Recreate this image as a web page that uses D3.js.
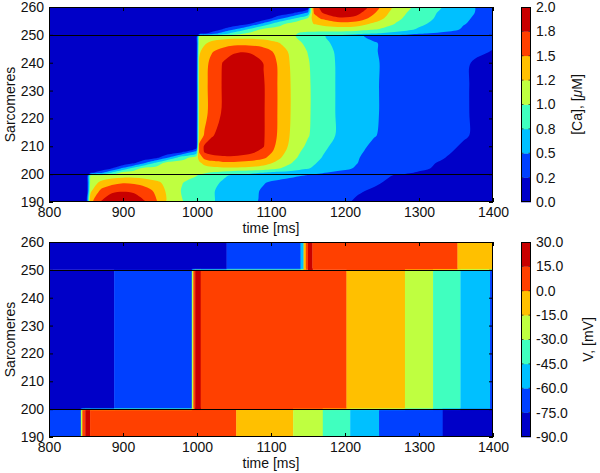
<!DOCTYPE html>
<html><head><meta charset="utf-8">
<script src="https://cdn.jsdelivr.net/npm/d3@7"></script>
<style>body{margin:0;background:#fff}</style>
</head><body>
<script>
// ---------------- DATA ----------------
const xTicks = [800, 900, 1000, 1100, 1200, 1300, 1400];
const yTicks = [190, 200, 210, 220, 230, 240, 250, 260];
const regionLines = [200, 250];

// Ca grid: sample times (ms) and sarcomere rows
const caTimes = [800, 851, 856, 870, 885, 900, 915, 930, 945, 960, 980, 999, 1003, 1010, 1020, 1035, 1050, 1070, 1090, 1110, 1130, 1150, 1158, 1170, 1190, 1215, 1240, 1270, 1300, 1330, 1360, 1400];
const caRows = [190, 194, 197, 199.5, 200.5, 202, 204, 206, 208, 210, 214, 222, 232, 240, 244, 247, 249.5, 250.5, 252, 254, 256, 258, 260];
const caValues = [
 [0.05,0.05,1.40,1.76,2.00,2.10,2.00,1.76,1.52,1.20,1.01,0.88,0.86,0.83,0.77,0.69,0.62,0.54,0.47,0.42,0.37,0.33,0.32,0.30,0.27,0.24,0.22,0.20,0.18,0.16,0.14,0.12],
 [0.05,0.05,1.20,1.55,1.68,1.72,1.68,1.60,1.45,1.20,0.98,0.88,0.86,0.83,0.77,0.70,0.63,0.55,0.48,0.43,0.38,0.34,0.33,0.31,0.29,0.26,0.24,0.21,0.19,0.17,0.15,0.13],
 [0.05,0.06,1.10,1.30,1.42,1.48,1.46,1.40,1.30,1.18,1.01,0.90,0.88,0.85,0.80,0.73,0.66,0.58,0.51,0.46,0.42,0.38,0.37,0.35,0.32,0.29,0.26,0.23,0.21,0.19,0.17,0.15],
 [0.05,0.05,1.03,1.08,1.12,1.15,1.15,1.13,1.10,1.07,1.03,1.01,0.98,0.95,0.90,0.78,0.72,0.68,0.62,0.57,0.53,0.49,0.47,0.44,0.39,0.34,0.29,0.24,0.22,0.20,0.18,0.16],
 [0.05,0.05,0.19,0.43,0.78,1.09,1.12,1.12,1.12,1.11,1.09,1.06,1.04,1.02,0.98,0.92,0.86,0.80,0.74,0.68,0.62,0.55,0.53,0.51,0.45,0.39,0.33,0.28,0.24,0.21,0.19,0.16],
 [0.05,0.05,0.05,0.05,0.26,0.57,0.88,1.12,1.12,1.12,1.12,1.12,1.13,1.15,1.18,1.20,1.20,1.18,1.12,1.01,0.88,0.76,0.72,0.66,0.57,0.48,0.39,0.32,0.27,0.23,0.20,0.16],
 [0.05,0.05,0.05,0.05,0.05,0.05,0.21,0.51,0.81,1.12,1.12,1.12,1.20,1.32,1.40,1.45,1.45,1.42,1.35,1.18,0.98,0.82,0.77,0.70,0.60,0.51,0.40,0.33,0.28,0.24,0.20,0.16],
 [0.05,0.05,0.05,0.05,0.05,0.05,0.05,0.05,0.17,0.46,0.88,1.12,1.35,1.58,1.66,1.70,1.70,1.65,1.55,1.30,1.05,0.87,0.82,0.74,0.63,0.52,0.42,0.35,0.30,0.26,0.21,0.17],
 [0.05,0.05,0.05,0.05,0.05,0.05,0.05,0.05,0.05,0.05,0.21,0.57,1.52,1.77,1.85,1.90,1.88,1.82,1.68,1.38,1.10,0.90,0.85,0.77,0.65,0.54,0.44,0.36,0.31,0.27,0.23,0.18],
 [0.05,0.05,0.05,0.05,0.05,0.05,0.05,0.05,0.05,0.05,0.05,0.05,1.55,1.78,1.95,2.05,2.05,1.95,1.76,1.42,1.15,0.95,0.89,0.80,0.68,0.56,0.46,0.38,0.32,0.28,0.24,0.19],
 [0.05,0.05,0.05,0.05,0.05,0.05,0.05,0.05,0.05,0.05,0.05,0.05,1.35,1.52,1.70,1.95,2.10,2.05,1.77,1.47,1.18,1.02,0.94,0.86,0.73,0.61,0.51,0.41,0.34,0.29,0.26,0.21],
 [0.05,0.05,0.05,0.05,0.05,0.05,0.05,0.05,0.05,0.05,0.05,0.05,1.30,1.42,1.60,1.78,2.10,2.10,1.77,1.48,1.20,1.03,0.96,0.86,0.73,0.62,0.52,0.42,0.35,0.30,0.26,0.21],
 [0.05,0.05,0.05,0.05,0.05,0.05,0.05,0.05,0.05,0.05,0.05,0.05,1.30,1.42,1.60,1.77,2.10,2.10,1.77,1.48,1.20,1.03,0.96,0.86,0.73,0.62,0.52,0.42,0.35,0.30,0.26,0.21],
 [0.05,0.05,0.05,0.05,0.05,0.05,0.05,0.05,0.05,0.05,0.05,0.05,1.28,1.40,1.58,1.76,1.95,1.95,1.74,1.47,1.18,1.02,0.94,0.85,0.73,0.62,0.52,0.43,0.36,0.31,0.26,0.22],
 [0.05,0.05,0.05,0.05,0.05,0.05,0.05,0.05,0.05,0.05,0.05,0.05,1.22,1.33,1.48,1.60,1.70,1.72,1.62,1.42,1.15,0.99,0.92,0.84,0.72,0.60,0.51,0.44,0.38,0.33,0.29,0.245],
 [0.05,0.05,0.05,0.05,0.05,0.05,0.05,0.05,0.05,0.05,0.05,0.05,1.15,1.22,1.31,1.38,1.42,1.42,1.38,1.27,1.08,0.95,0.88,0.80,0.70,0.58,0.51,0.44,0.39,0.34,0.30,0.26],
 [0.05,0.05,0.05,0.05,0.05,0.05,0.05,0.05,0.05,0.05,0.05,0.05,1.04,1.08,1.12,1.14,1.15,1.15,1.14,1.10,1.02,0.90,0.83,0.77,0.66,0.53,0.46,0.41,0.37,0.33,0.30,0.26],
 [0.05,0.05,0.05,0.05,0.05,0.05,0.05,0.05,0.05,0.05,0.05,0.05,0.10,0.22,0.37,0.62,0.85,1.05,1.08,1.05,1.02,0.95,0.93,0.90,0.87,0.82,0.76,0.66,0.52,0.46,0.42,0.35],
 [0.05,0.05,0.05,0.05,0.05,0.05,0.05,0.05,0.05,0.05,0.05,0.05,0.05,0.05,0.05,0.26,0.47,0.77,1.05,1.10,1.10,1.08,1.10,1.12,1.14,1.12,1.02,0.88,0.72,0.60,0.48,0.38],
 [0.05,0.05,0.05,0.05,0.05,0.05,0.05,0.05,0.05,0.05,0.05,0.05,0.05,0.05,0.05,0.05,0.05,0.22,0.57,0.90,1.10,1.15,1.26,1.32,1.40,1.38,1.20,0.98,0.80,0.66,0.51,0.40],
 [0.05,0.05,0.05,0.05,0.05,0.05,0.05,0.05,0.05,0.05,0.05,0.05,0.05,0.05,0.05,0.05,0.05,0.05,0.05,0.40,0.70,1.01,1.40,1.55,1.72,1.68,1.40,1.05,0.85,0.70,0.53,0.41],
 [0.05,0.05,0.05,0.05,0.05,0.05,0.05,0.05,0.05,0.05,0.05,0.05,0.05,0.05,0.05,0.05,0.05,0.05,0.05,0.05,0.20,0.51,1.52,1.77,1.90,1.85,1.52,1.10,0.88,0.72,0.55,0.42],
 [0.05,0.05,0.05,0.05,0.05,0.05,0.05,0.05,0.05,0.05,0.05,0.05,0.05,0.05,0.05,0.05,0.05,0.05,0.05,0.05,0.05,0.05,1.60,1.85,2.10,2.00,1.60,1.15,0.92,0.76,0.55,0.42]
];
const caLevels = [0, 0.25, 0.5, 0.75, 1.0, 1.25, 1.5, 1.75, 2.0];
const caTickLabels = ["0.0", "0.2", "0.5", "0.8", "1.0", "1.2", "1.5", "1.8", "2.0"];

// Voltage: piecewise-constant segments in each sarcomere region
const vRegionLow = [190, 200];
const vEdgesLow = [800, 843, 845, 849, 855.5, 1053, 1130, 1170, 1207, 1246, 1332, 1400];
const vValuesLow = [-70, -25, 8, 22, 8, -8, -22, -38, -52, -68, -82];
const vRegionMid = [200, 250];
const vEdgesMid = [800, 888, 993, 995, 997.5, 1005, 1202, 1281, 1319, 1356, 1396, 1400];
const vValuesMid = [-82, -68, -25, 8, 22, 8, -8, -22, -38, -52, -68];
const vRegionHigh = [250, 260];
const vEdgesHigh = [800, 1040, 1140, 1144, 1147, 1150, 1156, 1352, 1400];
const vValuesHigh = [-82, -68, -52, -8, 8, 22, 8, -8];
const vLevels = [-90, -75, -60, -45, -30, -15, 0, 15, 30];
const vTickLabels = ["-90.0", "-75.0", "-60.0", "-45.0", "-30.0", "-15.0", "0.0", "15.0", "30.0"];

const bandColors = ["#0000c8", "#0040ff", "#00c0ff", "#40ffbf", "#bfff40", "#ffc000", "#ff4000", "#c80000"];

// ---------------- LAYOUT ----------------
const W = 600, H = 473;
const X0 = 49, X1 = 493;
const panels = [{top: 7, bottom: 202}, {top: 242, bottom: 437}];
const CB0 = 521, CB1 = 531;
const FONT = "'Liberation Sans', Arial, sans-serif";
const FS = 14;

const svg = d3.select("body").append("svg").attr("width", W).attr("height", H)
  .style("font-family", FONT);

const x = d3.scaleLinear().domain([800, 1400]).range([X0, X1]);
const yS = panels.map(p => d3.scaleLinear().domain([190, 260]).range([p.bottom, p.top]));

panels.forEach((p, i) => {
  svg.append("clipPath").attr("id", "clip" + i).append("rect")
    .attr("x", X0).attr("y", p.top).attr("width", X1 - X0).attr("height", p.bottom - p.top);
});

// ---------- top panel: filled contours of Ca ----------
(function () {
  const y = yS[0];
  const g = svg.append("g").attr("clip-path", "url(#clip0)");
  g.append("rect").attr("x", X0).attr("y", panels[0].top).attr("width", X1 - X0)
    .attr("height", panels[0].bottom - panels[0].top).attr("fill", bandColors[0]);
  const nx = caTimes.length, ny = caRows.length;
  const flat = [];
  for (let j = 0; j < ny; j++) for (let i = 0; i < nx; i++) flat.push(caValues[j][i]);
  const contours = d3.contours().size([nx, ny]).thresholds(caLevels.slice(1, -1))(flat);
  const gi = d3.scaleLinear().domain(caTimes.map((_, i) => i + 0.5)).range(caTimes).clamp(true);
  const gj = d3.scaleLinear().domain(caRows.map((_, j) => j + 0.5)).range(caRows).clamp(true);
  const line = d3.line().curve(d3.curveCatmullRomClosed.alpha(0.5));
  contours.forEach((c, k) => {
    let d = "";
    c.coordinates.forEach(poly => poly.forEach(ring => {
      const pts = ring.slice(0, -1).map(([a, b]) => [x(gi(a)), y(gj(b))]);
      d += line(pts);
    }));
    g.append("path").attr("d", d).attr("fill", bandColors[k + 1]).attr("fill-rule", "evenodd");
  });
})();

// ---------- bottom panel: voltage segments ----------
(function () {
  const y = yS[1];
  const color = d3.scaleThreshold().domain(vLevels.slice(1, -1)).range(bandColors);
  const g = svg.append("g").attr("clip-path", "url(#clip1)");
  const regions = [[vRegionLow, vEdgesLow, vValuesLow], [vRegionMid, vEdgesMid, vValuesMid], [vRegionHigh, vEdgesHigh, vValuesHigh]];
  regions.forEach(([reg, edges, vals]) => {
    vals.forEach((v, i) => {
      g.append("rect")
        .attr("x", x(edges[i])).attr("width", Math.max(0, x(edges[i + 1]) - x(edges[i])) + 0.3)
        .attr("y", y(reg[1])).attr("height", y(reg[0]) - y(reg[1]))
        .attr("fill", color(v));
    });
  });
  // interpolation strips across the region boundaries (one sarcomere wide)
  const valAt = (edges, vals, t) => vals[Math.min(vals.length - 1, Math.max(0, d3.bisectRight(edges, t) - 1))];
  const pairs = [[regions[0], regions[1]], [regions[1], regions[2]]];
  pairs.forEach(([lo, hi]) => {
    const b = lo[0][1];
    const cuts = Array.from(new Set([...lo[1], ...hi[1]])).sort((a, c) => a - c);
    for (let i = 0; i < cuts.length - 1; i++) {
      const tm = (cuts[i] + cuts[i + 1]) / 2;
      const vL = valAt(lo[1], lo[2], tm), vH = valAt(hi[1], hi[2], tm);
      if (color(vL) === color(vH)) continue;
      for (let k = 0; k < 8; k++) {
        const a = vLevels[k], c = vLevels[k + 1];
        let s0 = (a - vL) / (vH - vL), s1 = (c - vL) / (vH - vL);
        if (s0 > s1) [s0, s1] = [s1, s0];
        s0 = Math.max(0, s0); s1 = Math.min(1, s1);
        if (s1 <= s0) continue;
        g.append("rect").attr("x", x(cuts[i])).attr("width", x(cuts[i + 1]) - x(cuts[i]) + 0.3)
          .attr("y", y(b - 0.5 + s1)).attr("height", y(b - 0.5 + s0) - y(b - 0.5 + s1))
          .attr("fill", bandColors[k]);
      }
    }
  });
})();

// ---------- axes, frames, lines ----------
panels.forEach((p, i) => {
  const y = yS[i];
  regionLines.forEach(r => {
    svg.append("line").attr("x1", X0).attr("x2", X1).attr("y1", Math.round(y(r)) + 0.5).attr("y2", Math.round(y(r)) + 0.5)
      .attr("stroke", "#000").attr("stroke-width", 1);
  });
  const styleAxis = sel => {
    sel.select(".domain").remove();
    sel.attr("font-family", FONT).attr("font-size", FS).attr("color", "#000");
    sel.selectAll("text").attr("fill", "#111");
  };
  svg.append("g").attr("transform", `translate(0,${p.bottom})`)
    .call(d3.axisBottom(x).tickValues(xTicks).tickSize(-4).tickPadding(5).tickFormat(d3.format("d"))).call(styleAxis);
  svg.append("g").attr("transform", `translate(0,${p.top})`)
    .call(d3.axisTop(x).tickValues(xTicks).tickSize(-4).tickFormat("")).call(styleAxis);
  svg.append("g").attr("transform", `translate(${X0},0)`)
    .call(d3.axisLeft(y).tickValues(yTicks).tickSize(-4).tickPadding(5).tickFormat(d3.format("d"))).call(styleAxis);
  svg.append("g").attr("transform", `translate(${X1},0)`)
    .call(d3.axisRight(y).tickValues(yTicks).tickSize(-4).tickFormat("")).call(styleAxis);
  svg.append("rect").attr("x", X0 + 0.5).attr("y", p.top + 0.5).attr("width", X1 - X0 - 1).attr("height", p.bottom - p.top - 1)
    .attr("fill", "none").attr("stroke", "#000").attr("stroke-width", 1);

  svg.append("text").attr("x", (X0 + X1) / 2).attr("y", p.bottom + 31).attr("text-anchor", "middle")
    .attr("font-size", FS).attr("fill", "#111").text("time [ms]");
  svg.append("text").attr("transform", `translate(15,${(p.top + p.bottom) / 2}) rotate(-90)`)
    .attr("text-anchor", "middle").attr("font-size", FS).attr("fill", "#111").text("Sarcomeres");

  // colorbar
  const labels = i === 0 ? caTickLabels : vTickLabels;
  const cb = d3.scaleLinear().domain([0, 8]).range([p.bottom, p.top]);
  const cg = svg.append("g");
  bandColors.forEach((c, k) => {
    cg.append("rect").attr("x", CB0).attr("width", CB1 - CB0).attr("y", cb(k + 1)).attr("height", cb(k) - cb(k + 1) + 0.3).attr("fill", c);
  });
  d3.range(1, 8).forEach(k => {
    cg.append("line").attr("x1", CB0).attr("x2", CB0 + 2.5).attr("y1", cb(k)).attr("y2", cb(k)).attr("stroke", "#333").attr("stroke-width", 0.8);
    cg.append("line").attr("x1", CB1 - 2.5).attr("x2", CB1).attr("y1", cb(k)).attr("y2", cb(k)).attr("stroke", "#333").attr("stroke-width", 0.8);
  });
  cg.append("rect").attr("x", CB0 + 0.5).attr("y", p.top + 0.5).attr("width", CB1 - CB0 - 1).attr("height", p.bottom - p.top - 1)
    .attr("fill", "none").attr("stroke", "#000").attr("stroke-width", 1);
  const ag = svg.append("g").attr("transform", `translate(${CB1},0)`)
    .call(d3.axisRight(cb).tickValues(d3.range(9)).tickSize(0).tickPadding(5).tickFormat(k => labels[k]));
  ag.select(".domain").remove();
  ag.attr("font-family", FONT).attr("font-size", FS);
  ag.selectAll("text").attr("fill", "#111");

  const title = svg.append("text")
    .attr("transform", `translate(${i === 0 ? 582 : 593},${(p.top + p.bottom) / 2}) rotate(-90)`)
    .attr("text-anchor", "middle").attr("font-size", FS).attr("fill", "#111");
  if (i === 0) {
    title.append("tspan").text("[Ca], [");
    title.append("tspan").attr("font-style", "italic").text("\u03bc");
    title.append("tspan").text("M]");
  } else {
    title.text("V, [mV]");
  }
});
</script>
</body></html>
